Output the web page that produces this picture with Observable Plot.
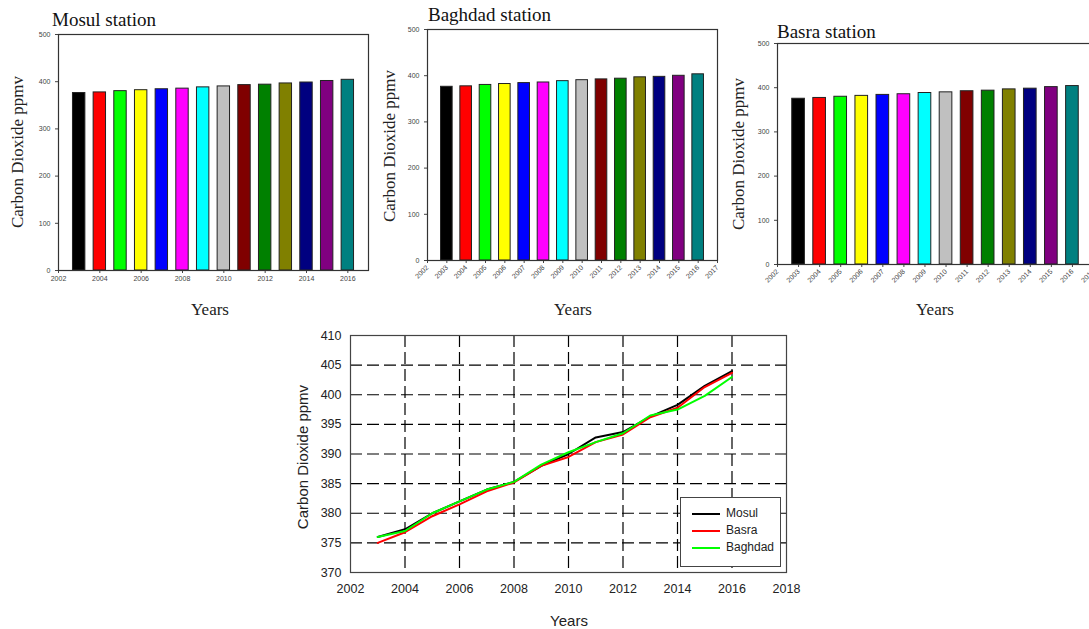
<!DOCTYPE html>
<html><head><meta charset="utf-8">
<script src="https://cdn.jsdelivr.net/npm/d3@7"></script>
<script src="https://cdn.jsdelivr.net/npm/@observablehq/plot@0.6"></script>
<style>
html,body{margin:0;padding:0;background:#fff;overflow:hidden}
#wrap{position:relative;width:1089px;height:629px;overflow:hidden;background:#fff}
.title{font-family:"Liberation Serif","Times New Roman",serif;font-size:19px;color:#111;white-space:nowrap;line-height:1}
.serif{font-family:"Liberation Serif","Times New Roman",serif;font-size:17px;color:#222;white-space:nowrap;line-height:1}
.sans{font-family:"Liberation Sans",Arial,sans-serif;font-size:15px;color:#222;white-space:nowrap;line-height:1}
.rot{transform:translate(-50%,-50%) rotate(-90deg)}
.ctr{transform:translate(-50%,-50%)}
.leg{font-family:"Liberation Sans",Arial,sans-serif;font-size:12px;color:#222;white-space:nowrap;line-height:1}
</style></head>
<body><div id="wrap"></div>
<script>
const years = [2003,2004,2005,2006,2007,2008,2009,2010,2011,2012,2013,2014,2015,2016];
const mosul   = [376,377.3,380,382,384,385.3,388,390,392.8,393.7,396.3,398.3,401.5,404];
const basra   = [375,376.8,379.5,381.5,383.7,385.2,388,389.5,392,393.3,396.2,397.8,401.3,403.7];
const baghdad = [376,377,380,382,384,385.3,388.2,390.3,392,393.5,396.5,397.5,399.8,403];
const barColors = ["#000000","#ff0000","#00ff00","#ffff00","#0000ff","#ff00ff","#00ffff","#c0c0c0","#800000","#008000","#808000","#000080","#800080","#008080"];
const barYTicks = [0,100,200,300,400,500];
const mosulXTicks = [2002,2004,2006,2008,2010,2012,2014,2016];
const allXTicks = [2002,2003,2004,2005,2006,2007,2008,2009,2010,2011,2012,2013,2014,2015,2016,2017];
const lineXTicks = [2002,2004,2006,2008,2010,2012,2014,2016,2018];
const lineYTicks = [370,375,380,385,390,395,400,405,410];
const stations = ["Mosul","Basra","Baghdad"];
const stationColors = ["#000000","#ff0000","#00ff00"];

const wrap = document.getElementById("wrap");
function place(el, left, top){ el.style.position="absolute"; el.style.left=left+"px"; el.style.top=top+"px"; wrap.appendChild(el); return el; }
function text(cls, str, left, top){ const d=document.createElement("div"); d.className=cls; d.textContent=str; return place(d,left,top); }

function barChart(vals, o){
  const data = years.map((y,i)=>({year:y, v:vals[i], c:barColors[i]}));
  return Plot.plot({
    width:o.width, height:o.height,
    marginLeft:o.ml, marginRight:o.mr, marginTop:o.mt, marginBottom:o.mb,
    style:{fontFamily:"'Liberation Sans',Arial,sans-serif", fontSize:"7px", color:"#444", background:"transparent", overflow:"visible"},
    x:{domain:[2002,2017], ticks:o.xticks, tickFormat:d=>String(d), tickRotate:o.rotate||0, tickSize:3, tickPadding:3, label:null},
    y:{domain:[0,500], ticks:barYTicks, tickSize:3, tickPadding:5, label:null},
    color:{type:"identity"},
    marks:[
      Plot.rectY(data,{x1:d=>d.year-0.3, x2:d=>d.year+0.3, y1:0, y2:"v", fill:"c", stroke:"#222", strokeWidth:1}),
      Plot.frame({stroke:"#333", strokeWidth:1.2})
    ]
  });
}

const m = barChart(mosul,{width:372,height:300,ml:58,mr:4,mt:34,mb:30,xticks:mosulXTicks});
place(m,0,0);
const b = barChart(baghdad,{width:360,height:300,ml:57,mr:13,mt:29,mb:40,xticks:allXTicks,rotate:-45});
place(b,370,0);
const s = barChart(basra,{width:372,height:300,ml:52,mr:4,mt:43,mb:36,xticks:allXTicks,rotate:-45});
place(s,725,0);

text("title","Mosul station",52,10);
text("title","Baghdad station",428,5);
text("title","Basra station",777,22);
text("serif rot","Carbon Dioxide ppmv",17,152);
text("serif rot","Carbon Dioxide ppmv",389,146);
text("serif rot","Carbon Dioxide ppmv",738,154);
text("serif ctr","Years",210,309);
text("serif ctr","Years",573,309);
text("serif ctr","Years",935,309);

const lineData = [];
stations.forEach((st,k)=>{
  const arr = [mosul,basra,baghdad][k];
  years.forEach((y,i)=>lineData.push({station:st, year:y, v:arr[i]}));
});
const lc = Plot.plot({
  width:530, height:309, marginLeft:70, marginRight:24, marginTop:15, marginBottom:57,
  style:{fontFamily:"'Liberation Sans',Arial,sans-serif", fontSize:"12.5px", color:"#222", background:"transparent", overflow:"visible"},
  x:{domain:[2002,2018], ticks:lineXTicks, tickFormat:d=>String(d), tickSize:0, tickPadding:12, label:null},
  y:{domain:[370,410], ticks:lineYTicks, tickSize:0, tickPadding:9, label:null},
  color:{domain:stations, range:stationColors},
  marks:[
    Plot.ruleX(lineXTicks.slice(1,-1),{stroke:"#000", strokeDasharray:"12,5", strokeWidth:1.2}),
    Plot.ruleY(lineYTicks.slice(1,-1),{stroke:"#000", strokeDasharray:"12,5", strokeWidth:1.2}),
    Plot.line(lineData,{x:"year", y:"v", stroke:"station", strokeWidth:2}),
    Plot.frame({stroke:"#444", strokeWidth:1.2})
  ]
});
place(lc,280,320);
text("sans rot","Carbon Dioxide ppmv",302,457);
text("sans ctr","Years",569,620);

// legend
const box = document.createElement("div");
box.style.cssText="width:101px;height:70px;border:1.2px solid #444;background:#fff;box-sizing:border-box";
place(box,680,497);
stations.forEach((st,k)=>{
  const ln=document.createElement("div");
  ln.style.cssText="width:28px;height:2px;background:"+stationColors[k];
  place(ln,692,513+k*17);
  text("leg",st,726,507+k*17);
});
</script></body></html>
